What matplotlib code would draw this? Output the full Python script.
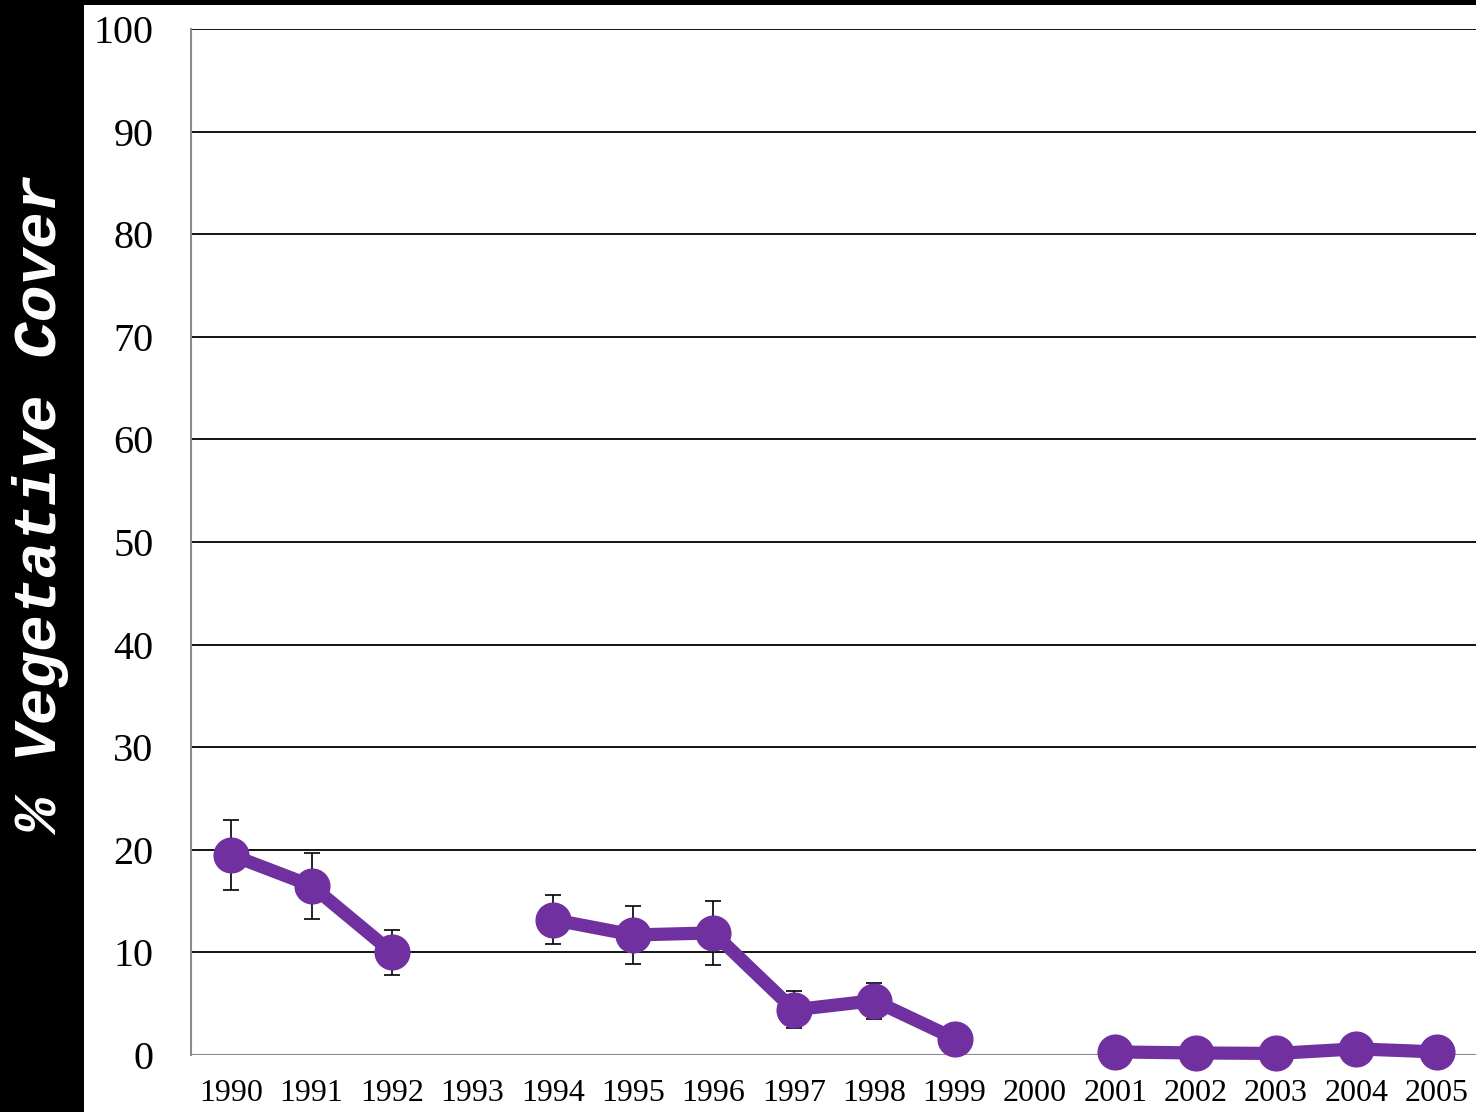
import numpy as np
import matplotlib
matplotlib.use("Agg")
import matplotlib.pyplot as plt
from matplotlib.patches import Rectangle

years = ["1990", "1991", "1992", "1993", "1994", "1995", "1996", "1997",
         "1998", "1999", "2000", "2001", "2002", "2003", "2004", "2005"]
cover = [19.5, 16.5, 10.0, np.nan, 13.2, 11.7, 11.9, 4.4,
         5.3, 1.6, np.nan, 0.3, 0.2, 0.15, 0.6, 0.3]
cover_err = [3.4, 3.2, 2.2, np.nan, 2.4, 2.85, 3.15, 1.8,
             1.75, 0.0, np.nan, 0.0, 0.0, 0.0, 0.0, 0.0]
yticks = [0, 10, 20, 30, 40, 50, 60, 70, 80, 90, 100]

W, H, DPI = 1476, 1112, 100
fig = plt.figure(figsize=(W / DPI, H / DPI), dpi=DPI)
fig.patch.set_facecolor("white")

# dark frame bands
fig.add_artist(Rectangle((0, 0), 84 / W, 1, transform=fig.transFigure,
                         facecolor="black", edgecolor="none", zorder=0))
fig.add_artist(Rectangle((0, 1 - 5 / H), 1, 5 / H, transform=fig.transFigure,
                         facecolor="black", edgecolor="none", zorder=0))

left, right = 191 / W, 1477 / W
top, bottom = 1 - 29 / H, 1 - 1055 / H
ax = fig.add_axes([left, bottom, right - left, top - bottom])
ax.set_facecolor("white")

x = np.arange(len(years))
ax.set_xlim(-0.5, len(years) - 0.5)
ax.set_ylim(0, 100)

for v in yticks[1:]:
    ax.axhline(v, color="black", lw=1.3, zorder=1)
ax.axhline(0, color="#8a8a8a", lw=1.5, zorder=1)

purple = "#7030A0"
ax.errorbar(x, cover, yerr=cover_err, fmt="none", ecolor="black",
            elinewidth=1.2, capsize=6, capthick=1.2, zorder=2)
ax.plot(x, cover, color=purple, lw=9.5, marker="o", markersize=25,
        markerfacecolor=purple, markeredgecolor=purple, zorder=3,
        solid_joinstyle="round", solid_capstyle="round", clip_on=False)

for s in ["top", "right", "bottom"]:
    ax.spines[s].set_visible(False)
ax.spines["left"].set_color("#8a8a8a")
ax.spines["left"].set_linewidth(1.5)

ax.set_yticks(yticks)
ax.set_yticklabels([str(v) for v in yticks], family="Liberation Serif",
                   fontsize=29)
ax.set_xticks(x)
ax.set_xticklabels(years, family="Liberation Serif", fontsize=23)
ax.tick_params(axis="y", length=0, pad=27)
ax.tick_params(axis="x", length=0, pad=17)

fig.text(41 / W, 1 - 505 / H, "% Vegetative Cover", rotation=90,
         color="white", family="Liberation Mono", fontweight="bold",
         fontstyle="italic", fontsize=44, ha="center", va="center")

fig.savefig("out.png", dpi=DPI)
